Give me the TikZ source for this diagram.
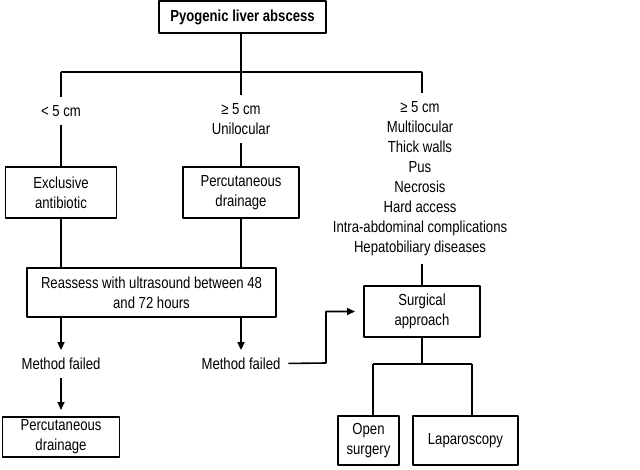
\documentclass[tikz,border=0pt]{standalone}
\usepackage{fontspec}
\setmainfont{Liberation Sans}[FakeStretch=0.82]
\usetikzlibrary{arrows.meta}
\begin{document}
\begin{tikzpicture}[x=1pt, y=-1pt, line width=1.6pt, line join=round, >={Triangle[length=8pt,width=7pt]},
		font=\fontsize{16}{20}\selectfont,
		box/.style={draw, align=center, inner sep=0pt, outer sep=0pt},
		lbl/.style={align=center, inner sep=0pt, outer sep=8pt}]
	\useasboundingbox (0,0) rectangle (640,469);
	% boxes
	\node[box, minimum width=167pt, minimum height=32pt, font=\fontsize{16}{20}\selectfont\bfseries] (abscess) at (242.5,17) {Pyogenic liver abscess};
	\node[box, minimum width=111pt, minimum height=51pt] (antib) at (61,192.5) {Exclusive\\antibiotic};
	\node[box, minimum width=116pt, minimum height=51pt] (drain) at (241,192.5) {Percutaneous\\drainage};
	\node[box, minimum width=249pt, minimum height=49pt] (reassess) at (151.5,292.5) {Reassess with ultrasound between 48\\and 72 hours};
	\node[box, minimum width=116pt, minimum height=51pt] (surgical) at (422,311.5) {Surgical\\approach};
	\node[box, minimum width=117pt, minimum height=40pt] (drainb) at (61,437) {Percutaneous\\drainage};
	\node[box, minimum width=61pt, minimum height=49pt] (open) at (368.5,440.5) {Open\\surgery};
	\node[box, minimum width=105pt, minimum height=49pt] (lapar) at (465.5,440.5) {Laparoscopy};
	% labels
	\node[lbl] (small) at (61,111) {< 5 cm};
	\node[lbl] (unil) at (241,119) {≥ 5 cm\\Unilocular};
	\node[lbl] (multil) at (420,178.5) {≥ 5 cm\\Multilocular\\Thick walls\\Pus\\Necrosis\\Hard access\\Intra-abdominal complications\\Hepatobiliary diseases};
	\node[lbl] (faila) at (61,364) {Method failed};
	\node[lbl] (failb) at (241,364) {Method failed};
	\coordinate (split) at (241,72);
	\coordinate (bend) at (326,363);
	\coordinate (splitb) at (422,364);
	\coordinate (ol) at (373,364);
	\coordinate (lr) at (472,364);
	% connectors
	\draw (abscess.south -| split) -- (split);
	\draw (split -| small) -- (split -| surgical);
	\draw (split -| small) -- (small);
	\draw (split) -- (unil);
	\draw (split -| surgical) -- (surgical |- multil.north);
	\draw (small) -- (antib);
	\draw (unil) -- (drain);
	\draw (antib) -- (antib |- reassess.north);
	\draw (drain) -- (drain |- reassess.north);
	\draw (surgical |- multil.south) -- (surgical);
	\draw[->] (reassess.south -| faila) -- (faila);
	\draw[->] (reassess.south -| failb) -- (failb);
	\draw[->, shorten >=7pt] (faila) -- (drainb);
	\draw[->, shorten >=9pt] (failb) -- (bend) |- (surgical.west);
	\draw (surgical) -- (splitb);
	\draw (ol) -- (lr);
	\draw (ol) -- (ol |- open.north);
	\draw (lr) -- (lr |- lapar.north);
\end{tikzpicture}
\end{document}
